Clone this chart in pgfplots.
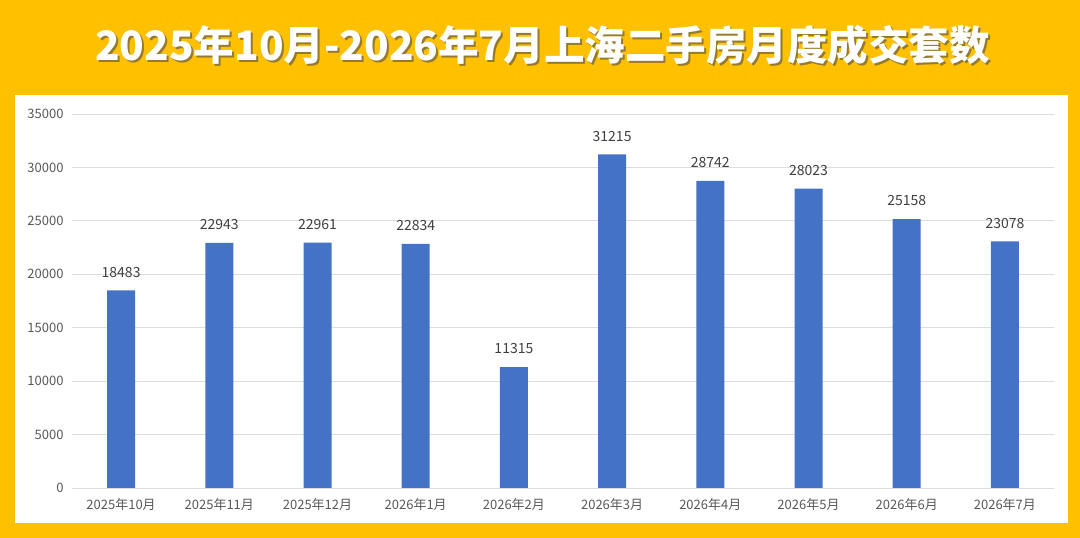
\documentclass[border=0pt]{standalone}
\usepackage{fontspec}
\setmainfont{Noto Sans CJK SC}
\usepackage{pgfplots}
\pgfplotsset{compat=1.18}
\definecolor{bgorange}{HTML}{FFC000}
\definecolor{barblue}{HTML}{4472C4}
\definecolor{gridgray}{HTML}{DDDDDD}
\definecolor{labgray}{HTML}{595959}
\definecolor{valgray}{HTML}{404040}
\begin{document}
\begin{tikzpicture}[x=1bp,y=1bp]
\fill[bgorange] (0,0) rectangle (1080,538);
\useasboundingbox (0,0) rectangle (1080,538);
\fill[white] (15,15) rectangle (1068,443);
\node[text=black!70,opacity=0.6,font=\fontsize{40.5bp}{48bp}\selectfont\bfseries] at (544.5,490.5) {2025年10月-2026年7月上海二手房月度成交套数};
\node[text=white,font=\fontsize{40.5bp}{48bp}\selectfont\bfseries] at (542.5,492.5) {2025年10月-2026年7月上海二手房月度成交套数};
\begin{axis}[
  at={(72bp,50bp)}, anchor=south west,
  scale only axis, width=982bp, height=374bp,
  xmin=-0.5, xmax=9.5, ymin=0, ymax=35000,
  ytick={0,5000,...,35000},
  scaled y ticks=false,
  /pgf/number format/assume math mode=true,
  yticklabel style={/pgf/number format/1000 sep={}, font=\fontsize{13bp}{15bp}\selectfont, text=labgray, xshift=-5bp},
  xtick={0,...,9},
  xticklabels={2025年10月,2025年11月,2025年12月,2026年1月,2026年2月,2026年3月,2026年4月,2026年5月,2026年6月,2026年7月},
  xticklabel style={font=\fontsize{13bp}{15bp}\selectfont, text=labgray, yshift=-7bp},
  minor xtick={-0.5,0.5,...,9.5},
  major tick length=0pt,
  minor tick length=5bp,
  tick align=outside,
  minor tick style={gridgray, line width=0.8bp},
  ymajorgrids, major grid style={gridgray, line width=0.8bp},
  axis x line*=bottom, axis y line*=left,
  x axis line style={gridgray, line width=0.8bp, -},
  y axis line style={draw=none},
  ytick style={draw=none},
  xtick style={draw=none},
  clip=false,
]
\addplot[ybar, bar width=28bp, fill=barblue, draw=none,
  nodes near coords,
  every node near coord/.append style={font=\fontsize{14bp}{16bp}\selectfont, text=valgray, inner sep=0pt, anchor=south, yshift=13bp},
  point meta=explicit symbolic]
 table[meta=lab] {
x y lab
0 18483 18483
1 22943 22943
2 22961 22961
3 22834 22834
4 11315 11315
5 31215 31215
6 28742 28742
7 28023 28023
8 25158 25158
9 23078 23078
};
\end{axis}
\end{tikzpicture}
\end{document}
